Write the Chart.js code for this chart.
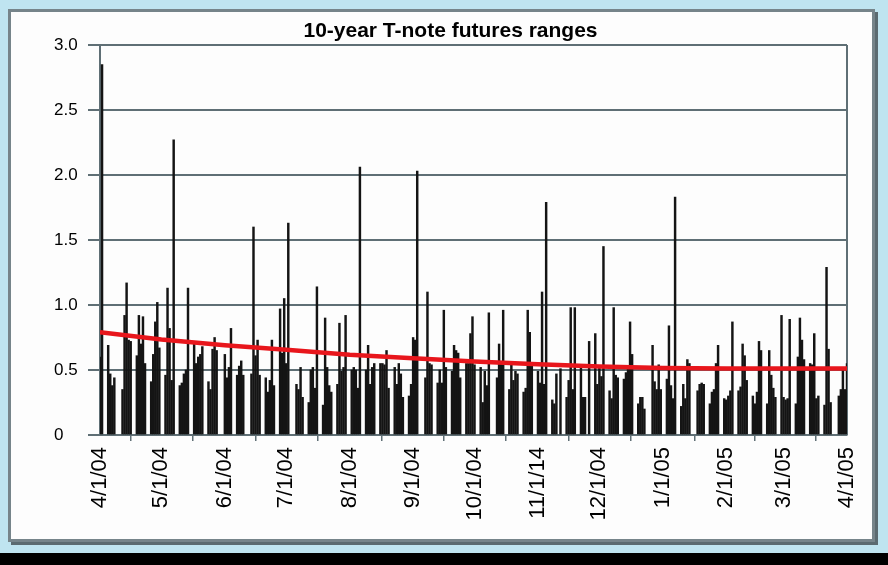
<!DOCTYPE html>
<html>
<head>
<meta charset="utf-8">
<script src="https://cdn.jsdelivr.net/npm/chart.js@4.4.1/dist/chart.umd.min.js"></script>
<style>
html, body { margin: 0; padding: 0; }
body { width: 888px; height: 565px; background: #bfe4f0; position: relative; overflow: hidden; }
#panell { position: absolute; left: 8px; top: 9px; width: 861px; height: 527px; background: #fdfdfd;
          border: 3px solid #76848a; box-shadow: 3px 3px 0 #5b6a70; }
#peu { position: absolute; left: 0; top: 553px; width: 888px; height: 12px; background: #000; }
#marc { position: absolute; left: 0; top: 0; width: 888px; height: 565px; }
</style>
</head>
<body>
<div id="panell"></div>
<div id="peu"></div>
<div id="marc"><canvas id="grafic"></canvas></div>
<script>
// Rang diari (punts) per mes, un valor per dia feiner; null = mercat tancat
const rangApr04 = [0.60, 2.85, 0.69, 0.47, 0.38, 0.44, null, 0.35, 0.92, 1.17, 0.73, 0.72, 0.61, 0.92, 0.70, 0.91, 0.55, 0.41, 0.62, 0.87, 1.02, 0.67];
const rangMay04 = [0.46, 1.13, 0.82, 0.42, 2.27, 0.38, 0.40, 0.47, 0.50, 1.13, 0.70, 0.55, 0.60, 0.62, 0.68, 0.41, 0.35, 0.66, 0.75, 0.65, null];
const rangJun04 = [0.62, 0.44, 0.52, 0.82, 0.46, 0.53, 0.57, 0.46, null, 0.47, 1.60, 0.61, 0.73, 0.46, 0.44, 0.33, 0.42, 0.73, 0.38, 0.97, 0.63, 1.05];
const rangJul04 = [0.55, 1.63, null, 0.39, 0.35, 0.52, 0.29, 0.25, 0.50, 0.52, 0.36, 1.14, 0.23, 0.90, 0.52, 0.38, 0.33, 0.39, 0.86, 0.49, 0.52, 0.92];
const rangAug04 = [0.50, 0.52, 0.50, 0.36, 2.06, 0.50, 0.69, 0.39, 0.52, 0.55, 0.55, 0.55, 0.54, 0.65, 0.36, 0.52, 0.39, 0.55, 0.47, 0.29, 0.30, 0.39];
const rangSep04 = [0.75, 0.73, 2.03, null, 0.44, 1.10, 0.55, 0.54, 0.40, 0.50, 0.40, 0.96, 0.52, 0.49, 0.69, 0.65, 0.63, 0.44, 0.55, 0.55, 0.78, 0.91];
const rangOct04 = [0.54, 0.52, 0.25, 0.49, 0.38, 0.94, null, 0.44, 0.70, 0.55, 0.96, 0.35, 0.54, 0.42, 0.49, 0.47, 0.33, 0.36, 0.96, 0.79, 0.54];
const rangNov04 = [0.49, 0.40, 1.10, 0.39, 1.79, 0.27, 0.24, 0.47, null, 0.51, 0.29, 0.42, 0.98, 0.35, 0.98, 0.52, 0.29, 0.29, null, 0.72, 0.78, 0.39];
const rangDec04 = [0.52, 0.45, 1.45, 0.34, 0.28, 0.98, 0.46, 0.44, 0.43, 0.48, 0.51, 0.87, 0.62, 0.24, 0.29, 0.29, 0.20, null, 0.69, 0.41, 0.35, 0.54, 0.35];
const rangJan05 = [0.43, 0.84, 0.38, 0.28, 1.83, 0.22, 0.39, 0.28, 0.58, 0.55, null, 0.34, 0.39, 0.40, 0.39, 0.24, 0.33, 0.35, 0.55, 0.69, 0.28];
const rangFeb05 = [0.27, 0.30, 0.34, 0.87, 0.34, 0.37, 0.70, 0.61, 0.42, 0.30, 0.24, 0.33, 0.72, 0.65, 0.24, 0.65, 0.46, 0.36, 0.29, 0.92];
const rangMar05 = [0.29, 0.27, 0.28, 0.89, 0.24, 0.60, 0.90, 0.73, 0.58, 0.55, 0.54, 0.78, 0.28, 0.30, 0.23, 1.29, 0.66, 0.25, null, 0.30, 0.35, 0.50, 0.35];
const rangApr05 = [0.55];

// Línia vermella (tendència), un valor a l'inici de cada mes
const tendencia = [0.79, 0.735, 0.69, 0.655, 0.617, 0.59, 0.565, 0.545, 0.527, 0.515, 0.512, 0.512, 0.512];

const etiquetesX = ['4/1/04', '5/1/04', '6/1/04', '7/1/04', '8/1/04', '9/1/04', '10/1/04',
                    '11/1/14', '12/1/04', '1/1/05', '2/1/05', '3/1/05', '4/1/05'];
const etiquetesY = ['0', '0.5', '1.0', '1.5', '2.0', '2.5', '3.0'];

const GRIS = '#5f6f75';
const INICI = new Date(2004, 3, 1);
const FI = new Date(2005, 3, 1);
const diaDe = d => Math.round((d - INICI) / 86400000);

// Inici de cada mes com a dia des de l'1/4/04
const mesos = etiquetesX.map((_, i) => diaDe(new Date(2004, 3 + i, 1)));

const rangs = [].concat(rangApr04, rangMay04, rangJun04, rangJul04, rangAug04, rangSep04,
                        rangOct04, rangNov04, rangDec04, rangJan05, rangFeb05, rangMar05, rangApr05);
const barres = [];
let k = 0;
for (let d = new Date(INICI); d <= FI; d.setDate(d.getDate() + 1)) {
    const wd = d.getDay();
    if (wd === 0 || wd === 6) continue;
    const v = rangs[k++];
    if (v !== null && v !== undefined) barres.push({ x: diaDe(d), y: v });
}

const liniaTend = tendencia.map((v, i) => ({ x: mesos[i], y: v }));

// Vora dreta de l'àrea del gràfic
const vora = {
    id: 'vora',
    beforeDatasetsDraw(chart) {
        const { ctx, chartArea: a } = chart;
        ctx.save();
        ctx.strokeStyle = GRIS;
        ctx.lineWidth = 2;
        ctx.beginPath();
        ctx.moveTo(a.right, a.top);
        ctx.lineTo(a.right, a.bottom);
        ctx.stroke();
        ctx.restore();
    }
};

Chart.defaults.font.family = '"Liberation Sans", Arial, sans-serif';
Chart.defaults.color = '#000';

new Chart(document.getElementById('grafic'), {
    type: 'bar',
    data: {
        datasets: [
            {
                type: 'line',
                data: liniaTend,
                borderColor: '#e8161c',
                borderWidth: 4.5,
                pointRadius: 0,
                tension: 0,
                order: 0
            },
            {
                type: 'bar',
                data: barres,
                backgroundColor: '#141414',
                barThickness: 1.8,
                order: 1
            }
        ]
    },
    options: {
        responsive: true,
        maintainAspectRatio: false,
        animation: false,
        layout: { padding: { left: 54, right: 41, top: 0, bottom: 0 } },
        plugins: {
            legend: { display: false },
            tooltip: { enabled: false },
            title: {
                display: true,
                text: '10-year T-note futures ranges',
                font: { size: 21, weight: 'bold' },
                padding: { top: 19, bottom: 0.8 }
            }
        },
        scales: {
            x: {
                type: 'linear',
                offset: false,
                min: 0,
                max: mesos[mesos.length - 1],
                afterBuildTicks: s => { s.ticks = mesos.map(v => ({ value: v })); },
                afterFit: s => { s.height = 130; },
                ticks: {
                    autoSkip: false,
                    minRotation: 90,
                    maxRotation: 90,
                    padding: 6,
                    font: { size: 22 },
                    callback: (v, i) => etiquetesX[i]
                },
                grid: { drawOnChartArea: false, color: GRIS, lineWidth: 1.5, tickLength: 6 },
                border: { color: GRIS, width: 2 }
            },
            y: {
                min: 0,
                max: 3,
                afterFit: s => { s.width = 46; },
                ticks: {
                    stepSize: 0.5,
                    crossAlign: 'far',
                    font: { size: 17 },
                    callback: (v, i) => etiquetesY[i]
                },
                grid: { color: GRIS, lineWidth: 2, tickLength: 12 },
                border: { color: GRIS, width: 2 }
            }
        }
    },
    plugins: [vora]
});
</script>
</body>
</html>
